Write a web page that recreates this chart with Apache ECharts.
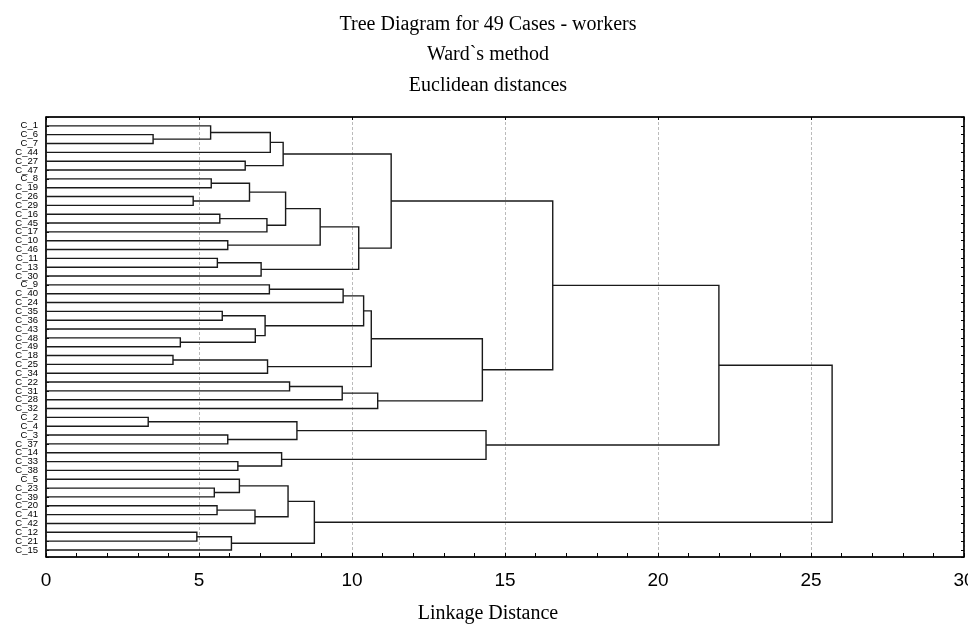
<!DOCTYPE html>
<html>
<head>
<meta charset="utf-8">
<script src="https://cdn.jsdelivr.net/npm/echarts@6/dist/echarts.min.js"></script>
<style>
  html, body { margin: 0; padding: 0; background: #fff; }
  #chart { width: 968px; height: 624px; }
</style>
</head>
<body>
<div id="chart"></div>
<script>
// leaf order, top to bottom
const leaves = [
  'C_1', 'C_6', 'C_7', 'C_44', 'C_27', 'C_47', 'C_8', 'C_19', 'C_26', 'C_29',
  'C_16', 'C_45', 'C_17', 'C_10', 'C_46', 'C_11', 'C_13', 'C_30', 'C_9', 'C_40',
  'C_24', 'C_35', 'C_36', 'C_43', 'C_48', 'C_49', 'C_18', 'C_25', 'C_34', 'C_22',
  'C_31', 'C_28', 'C_32', 'C_2', 'C_4', 'C_3', 'C_37', 'C_14', 'C_33', 'C_38',
  'C_5', 'C_23', 'C_39', 'C_20', 'C_41', 'C_42', 'C_12', 'C_21', 'C_15'
]

// merges: a string is a leaf, a number is an earlier merge (its index here)
const mergeLeft = [
  'C_6', 'C_1', 1, 'C_27', 2, 'C_8', 'C_26', 5, 'C_16', 8,
  7, 'C_10', 10, 'C_11', 13, 12, 4, 'C_9', 17, 'C_35',
  'C_48', 'C_43', 19, 18, 'C_18', 24, 23, 'C_22', 27, 28,
  26, 16, 'C_2', 'C_3', 32, 'C_33', 'C_14', 34, 31, 'C_23',
  'C_5', 'C_20', 41, 40, 'C_12', 44, 43, 38
]
const mergeRight = [
  'C_7', 0, 'C_44', 'C_47', 3, 'C_19', 'C_29', 6, 'C_45', 'C_17',
  9, 'C_46', 11, 'C_13', 'C_30', 14, 15, 'C_40', 'C_24', 'C_36',
  'C_49', 20, 21, 22, 'C_25', 'C_34', 25, 'C_31', 'C_28', 'C_32',
  29, 30, 'C_4', 'C_37', 33, 'C_38', 35, 36, 37, 'C_39',
  39, 'C_41', 'C_42', 42, 'C_21', 'C_15', 45, 46
]
const mergeDist = [
  3.50, 5.38, 7.33, 6.51, 7.75, 5.40, 4.81, 6.65, 5.68, 7.22,
  7.83, 5.94, 8.96, 5.60, 7.03, 10.22, 11.28, 7.30, 9.71, 5.76,
  4.39, 6.84, 7.16, 10.38, 4.15, 7.24, 10.63, 7.96, 9.68, 10.84,
  14.26, 16.56, 3.34, 5.94, 8.20, 6.27, 7.70, 14.38, 21.99, 5.50,
  6.32, 5.59, 6.83, 7.91, 4.93, 6.06, 8.77, 25.69
]

const distTicks = [0, 5, 10, 15, 20, 25, 30]

// position of each node in data space: [distance, row]
const nodes = []
function nodePos(ref) {
  if (typeof ref === 'string') return [0, leaves.indexOf(ref)]
  return nodes[ref]
}
const segs = mergeDist.map((h, i) => {
  const a = nodePos(mergeLeft[i])
  const b = nodePos(mergeRight[i])
  nodes[i] = [h, (a[1] + b[1]) / 2]
  return [a[0], a[1], b[0], b[1], h]
})

const chart = echarts.init(document.getElementById('chart'))

const serif = { fontFamily: 'Liberation Serif', fontSize: 20, fontWeight: 'normal', color: '#000' }

const option = {
  backgroundColor: '#fff',
  animation: false,
  title: [
    { text: 'Tree Diagram for 49 Cases - workers', left: 488, top: 15, padding: 0, textAlign: 'center', textStyle: serif },
    { text: 'Ward`s method', left: 488, top: 45, padding: 0, textAlign: 'center', textStyle: serif },
    { text: 'Euclidean distances', left: 488, top: 76, padding: 0, textAlign: 'center', textStyle: serif },
    // axis title sits centred on the page, not on the plot
    { text: 'Linkage Distance', left: 488, top: 604, padding: 0, textAlign: 'center', textStyle: serif }
  ],
  grid: {
    left: 46,
    right: 4,
    top: 117,
    bottom: 67,
    outerBoundsMode: 'none',
    containLabel: false,
    show: true,
    borderColor: '#000',
    borderWidth: 1
  },
  xAxis: [
    {
      type: 'value',
      position: 'bottom',
      min: 0,
      max: 30,
      interval: 5,
      axisLine: { show: true, onZero: false, lineStyle: { color: '#000', width: 1.5 } },
      axisTick: { show: true, inside: true, length: 4, lineStyle: { color: '#000' } },
      minorTick: { show: true, splitNumber: 5, length: 4, lineStyle: { color: '#000' } },
      axisLabel: {
        fontFamily: 'Liberation Sans',
        fontSize: 19,
        color: '#000',
        margin: 14,
        formatter: v => distTicks.includes(v) ? String(v) : ''
      },
      splitLine: { show: true, lineStyle: { color: '#bbb', type: [3, 2], width: 1 } }
    },
    {
      type: 'value',
      position: 'top',
      min: 0,
      max: 30,
      interval: 5,
      axisLine: { show: true, onZero: false, lineStyle: { color: '#000', width: 1.5 } },
      axisTick: { show: true, inside: true, length: 3, lineStyle: { color: '#000' } },
      axisLabel: { show: false },
      splitLine: { show: false }
    }
  ],
  yAxis: [
    {
      type: 'value',
      inverse: true,
      position: 'left',
      min: -1,
      max: 48.8,
      interval: 1,
      axisLine: { show: true, onZero: false, lineStyle: { color: '#000', width: 1.5 } },
      axisTick: { show: true, inside: true, length: 3, lineStyle: { color: '#000' } },
      axisLabel: {
        fontFamily: 'Liberation Sans',
        fontSize: 9.5,
        color: '#000',
        margin: 8,
        formatter: v => (Number.isInteger(v) && v >= 0 && v < leaves.length) ? leaves[v] : ''
      },
      splitLine: { show: false }
    },
    {
      type: 'value',
      inverse: true,
      position: 'right',
      min: -1,
      max: 48.8,
      interval: 1,
      axisLine: { show: true, onZero: false, lineStyle: { color: '#000', width: 1.5 } },
      axisTick: { show: true, inside: true, length: 3, lineStyle: { color: '#000' } },
      axisLabel: { show: false },
      splitLine: { show: false }
    }
  ],
  series: [
    {
      type: 'custom',
      xAxisIndex: 0,
      yAxisIndex: 0,
      encode: { x: [0, 2, 4], y: [1, 3] },
      data: segs,
      renderItem: (params, api) => {
        const xl = api.value(0), yl = api.value(1)
        const xr = api.value(2), yr = api.value(3)
        const h = api.value(4)
        const pts = [
          api.coord([xl, yl]),
          api.coord([h, yl]),
          api.coord([h, yr]),
          api.coord([xr, yr])
        ]
        return {
          type: 'polyline',
          shape: { points: pts },
          style: { stroke: '#1a1a1a', lineWidth: 1.4, fill: null }
        }
      }
    }
  ]
}

chart.setOption(option)
</script>
</body>
</html>
